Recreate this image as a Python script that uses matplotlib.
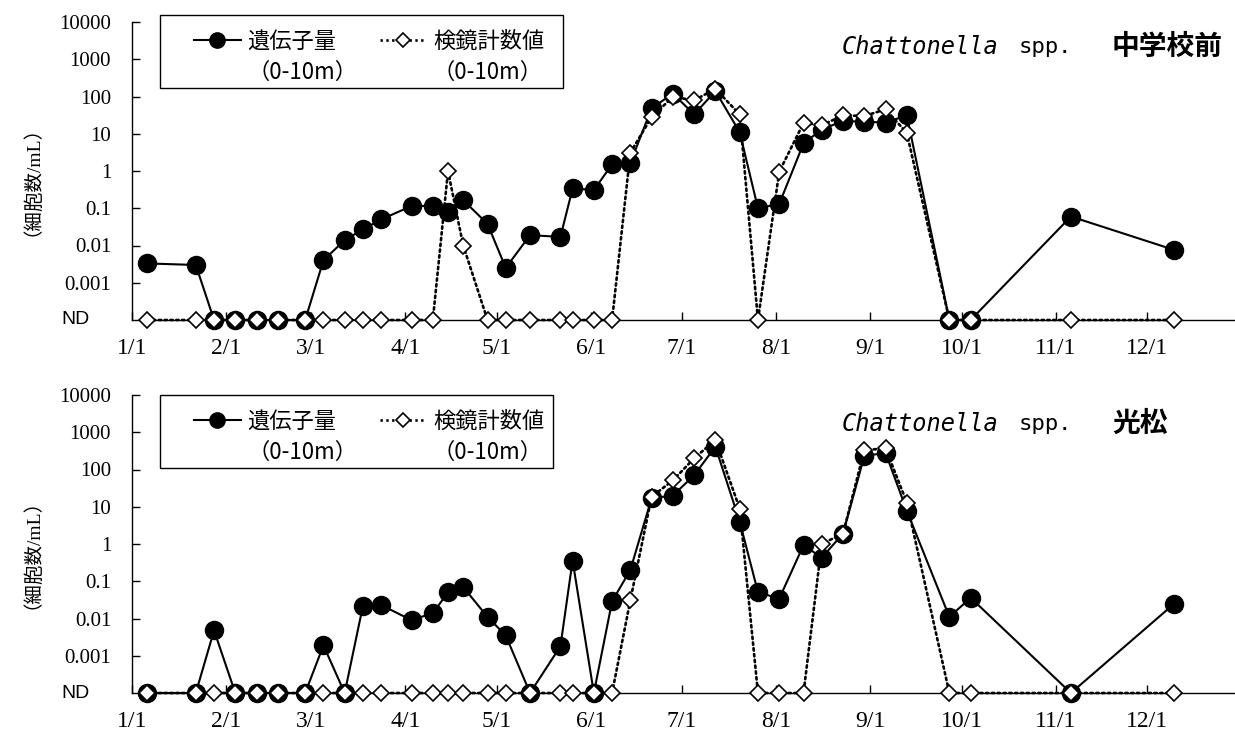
import numpy as np
import matplotlib
matplotlib.use('Agg')
from matplotlib import pyplot as plt
from matplotlib.lines import Line2D
from matplotlib.patches import Rectangle

#%% data (day of year, 0 = 1/1); 0 means ND
days = [5, 21, 27, 34, 41, 48, 57, 63, 70, 76, 82, 92, 99, 104, 109, 117, 123, 131, 141, 145,
        152, 158, 164, 171, 178, 185, 192, 200, 206, 213, 221, 227, 234, 241, 248, 255, 269, 276, 309, 343]

# 中学校前
gene_top = [0.0033, 0.003, 0, 0, 0, 0, 0, 0.004, 0.014, 0.027, 0.05, 0.115, 0.115, 0.08, 0.165, 0.038,
            0.0025, 0.019, 0.017, 0.34, 0.31, 1.5, 1.65, 48, 120, 33, 140, 11, 0.1, 0.13, 5.5, 13,
            22, 21, 20, 31, 0, 0, 0.06, 0.0076]
micro_top = [0, 0, 0, 0, 0, 0, 0, 0, 0, 0, 0, 0, 0, 1.0, 0.01, 0, 0, 0, 0, 0, 0, 0, 3.1, 28, 98, 79,
             160, 33, 0, 0.95, 19.5, 17, 31, 30, 45, 10.5, 0, 0, 0, 0]

# 光松
gene_bot = [0, 0, 0.0048, 0, 0, 0, 0, 0.0019, 0, 0.022, 0.023, 0.009, 0.014, 0.05, 0.07, 0.011,
            0.0035, 0, 0.0018, 0.36, 0, 0.029, 0.2, 17, 20, 70, 410, 4, 0.051, 0.034, 0.93, 0.43,
            1.9, 230, 280, 7.8, 0.011, 0.036, 0, 0.025]
micro_bot = [0, 0, 0, 0, 0, 0, 0, 0, 0, 0, 0, 0, 0, 0, 0, 0, 0, 0, 0, 0, 0, 0, 0.031, 18.5, 51,
             200, 620, 8.9, 0, 0, 0, 1.0, 1.9, 330, 370, 13, 0, 0, 0, 0]

month_days = [0, 31, 59, 90, 120, 151, 181, 212, 243, 273, 304, 334]
month_labels = ['1/1', '2/1', '3/1', '4/1', '5/1', '6/1', '7/1', '8/1', '9/1', '10/1', '11/1', '12/1']
ytick_vals = [1e-3, 1e-2, 1e-1, 1, 10, 100, 1000, 10000]
ytick_labels = ['0.001', '0.01', '0.1', '1', '10', '100', '1000', '10000']
ND = 1e-4

stations = ['中学校前', '光松']
legend_labels = ['遺伝子量', '（0-10m）', '検鏡計数値', '（0-10m）']

W, H = 1235, 734
serif = 'Liberation Serif'
jp = 'Noto Sans CJK JP'
dots = (0, (0.9, 1.3))

fig = plt.figure(figsize=(W / 100, H / 100), dpi=100)

# pixel layout: axes (left, top=10000, right, bottom=ND) and legend frame (l, t, r, b)
boxes = [(132, 22, 1235, 320), (132, 395, 1235, 693)]
leg_boxes = [(160, 15, 563, 88), (160, 395, 553, 468)]
title_y = [47, 424]
series = [(gene_top, micro_top), (gene_bot, micro_bot)]

for k in range(2):
    l, t, r, b = boxes[k]
    ax = fig.add_axes([l / W, 1 - b / H, (r - l) / W, (b - t) / H])
    gene, micro = series[k]
    g = np.array(gene, dtype=float)
    m = np.array(micro, dtype=float)
    g = np.where(g > 0, g, ND)
    m = np.where(m > 0, m, ND)

    ax.plot(days, g, '-', color='black', lw=1.5, marker='o', ms=13,
            mfc='black', mec='black', clip_on=False, zorder=3)
    ax.plot(days, m, color='black', lw=1.9, ls=dots, dash_capstyle='round',
            marker='D', ms=8, mfc='white', mec='black', mew=1.2, clip_on=False, zorder=4)

    ax.set_yscale('log')
    ax.set_ylim(ND, 1e4)
    ax.set_xlim(0, 363)
    ax.set_yticks(ytick_vals)
    ax.set_yticklabels(ytick_labels, fontfamily=serif, fontsize=15)
    ax.yaxis.set_minor_locator(matplotlib.ticker.NullLocator())
    ax.set_xticks(month_days)
    ax.set_xticklabels(month_labels, fontfamily=serif, fontsize=17)
    ax.tick_params(axis='y', direction='in', length=6, width=1, pad=15)
    ax.tick_params(axis='x', direction='in', length=6, width=1, pad=13)
    for s in ['top', 'right']:
        ax.spines[s].set_visible(False)
    for s in ['left', 'bottom']:
        ax.spines[s].set_linewidth(1)
    ax.patch.set_alpha(0)

    # ND label
    ax.text((61 - l) / (r - l), ND, 'ND', transform=ax.get_yaxis_transform(),
            ha='left', va='center', fontsize=14, fontfamily='Liberation Sans')

    # y label
    fig.text(22 / W, 1 - (t + b) / 2 / H, '（細胞数/mL）', rotation=90, ha='center', va='center',
             fontsize=14, fontfamily=[serif, jp])

    # legend: frame drawn separately, second line of each label as its own row
    ll, lt, lr, lb = leg_boxes[k]
    fig.patches.append(Rectangle((ll / W, 1 - lb / H), (lr - ll) / W, (lb - lt) / H,
                                 transform=fig.transFigure, fill=False, ec='black', lw=1))
    h1 = Line2D([], [], color='black', lw=1.5, marker='o', ms=11, mfc='black')
    h2 = Line2D([], [], color='black', lw=1.9, ls=dots, marker='D', ms=7,
                mfc='white', mec='black', mew=1.2)
    blank = Line2D([], [], lw=0, alpha=0)
    leg = ax.legend([h1, blank, h2, blank], legend_labels, ncol=2,
                    loc='upper left', bbox_to_anchor=((ll + 34) / W, 1 - (lt + 15) / H),
                    bbox_transform=fig.transFigure,
                    prop={'family': jp, 'size': 16}, frameon=False,
                    handlelength=2.1, handletextpad=0.3, labelspacing=0.37,
                    columnspacing=1.0, borderpad=0, borderaxespad=0)

    # title
    ty = 1 - title_y[k] / H
    fig.text(842 / W, ty, 'Chattonella', style='italic', fontfamily='DejaVu Sans Mono',
             fontsize=17, va='center', ha='left')
    fig.text(1019 / W, ty, 'spp.', fontfamily='DejaVu Sans Mono', fontsize=16,
             va='center', ha='left')
    fig.text(1112 / W, ty, stations[k], fontfamily=jp, fontsize=20, fontweight='bold',
             va='center', ha='left')

plt.savefig('out.png', dpi=100)
